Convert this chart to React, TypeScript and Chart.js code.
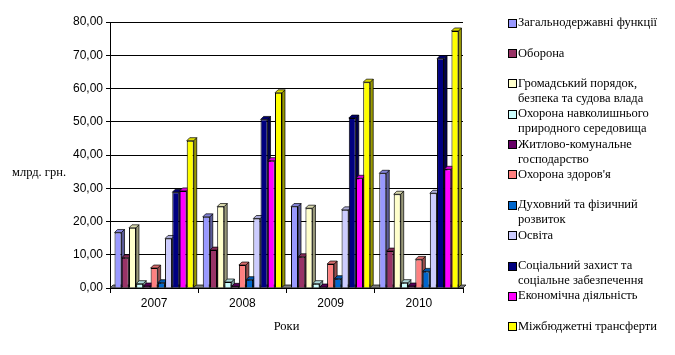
import React, { useEffect, useRef } from "react";
import { Chart, registerables } from "chart.js";
Chart.register(...registerables);

const categories = ["2007", "2008", "2009", "2010"];
const seriesNames: string[][] = [
  ["Загальнодержавні функції"],
  ["Оборона"],
  ["Громадський порядок,", "безпека та судова влада"],
  ["Охорона навколишнього", "природного середовища"],
  ["Житлово-комунальне", "господарство"],
  ["Охорона здоров'я"],
  ["Духовний та фізичний", "розвиток"],
  ["Освіта"],
  ["Соціальний захист та", "соціальне забезпечення"],
  ["Економічна діяльність"],
  ["Міжбюджетні трансферти"],
];
const zagalni = [16.7, 21.4, 24.5, 34.5];
const oborona = [9.1, 11.4, 9.4, 11.1];
const poryadok = [18.1, 24.5, 24.0, 28.2];
const dovkillia = [1.3, 1.8, 1.3, 1.6];
const zhytlo = [0.6, 0.5, 0.3, 0.6];
const zdorovia = [6.0, 6.9, 7.2, 8.6];
const dukhovnyi = [1.6, 2.5, 2.8, 5.0];
const osvita = [14.9, 20.9, 23.5, 28.5];
const sotsialnyi = [28.8, 50.7, 51.1, 69.0];
const ekonomika = [29.2, 38.3, 33.0, 35.7];
const transferty = [44.3, 58.7, 61.9, 77.3];
const seriesValues = [zagalni, oborona, poryadok, dovkillia, zhytlo, zdorovia, dukhovnyi, osvita, sotsialnyi, ekonomika, transferty];
const colors = ["#9999FF", "#993366", "#FFFFCC", "#CCFFFF", "#660066", "#FF8080", "#0066CC", "#CCCCFF", "#000080", "#FF00FF", "#FFFF00"];
const yTicks = [0, 10, 20, 30, 40, 50, 60, 70, 80];

function shade(hex: string, f: number): string {
  const n = parseInt(hex.slice(1), 16);
  let r = (n >> 16) & 255, g = (n >> 8) & 255, b = n & 255;
  if (f < 1) { r *= f; g *= f; b *= f; } else { r = r + (255 - r) * (f - 1); g = g + (255 - g) * (f - 1); b = b + (255 - b) * (f - 1); }
  return `rgb(${Math.round(r)},${Math.round(g)},${Math.round(b)})`;
}

const bar3d = {
  id: "bar3d",
  beforeDatasetsDraw(chart: any) {
    const ctx = chart.ctx;
    const d = 3;
    const a = chart.chartArea;
    ctx.save();
    ctx.lineWidth = 0.7;
    ctx.strokeStyle = "#000";
    ctx.fillStyle = "#808080";
    ctx.beginPath();
    ctx.moveTo(a.left, a.bottom); ctx.lineTo(a.left + d, a.bottom - d); ctx.lineTo(a.right + d, a.bottom - d); ctx.lineTo(a.right, a.bottom); ctx.closePath();
    ctx.fill(); ctx.stroke();
    chart.data.datasets.forEach((ds: any, i: number) => {
      const meta = chart.getDatasetMeta(i);
      meta.data.forEach((el: any) => {
        const w = el.width;
        const l = el.x - w / 2, r = el.x + w / 2, t = el.y, b = el.base;
        ctx.fillStyle = shade(colors[i], 0.6);
        ctx.beginPath();
        ctx.moveTo(r, t); ctx.lineTo(r + d, t - d); ctx.lineTo(r + d, b - d); ctx.lineTo(r, b); ctx.closePath();
        ctx.fill(); ctx.stroke();
        ctx.fillStyle = shade(colors[i], 0.85);
        ctx.beginPath();
        ctx.moveTo(l, t); ctx.lineTo(l + d, t - d); ctx.lineTo(r + d, t - d); ctx.lineTo(r, t); ctx.closePath();
        ctx.fill(); ctx.stroke();
      });
    });
    ctx.restore();
  },
};

export default function App() {
  const ref = useRef<HTMLCanvasElement>(null);
  useEffect(() => {
    document.body.style.margin = "0";
    const chart = new Chart(ref.current!, {
      type: "bar",
      data: {
        labels: categories,
        datasets: seriesValues.map((v, i) => ({
          label: seriesNames[i].join(" "),
          data: v,
          backgroundColor: colors[i],
          borderColor: "#000",
          borderWidth: 1,
          categoryPercentage: 0.9,
          barPercentage: 0.97,
        })),
      },
      options: {
        responsive: false,
        animation: false,
        plugins: { legend: { display: false }, tooltip: { enabled: false } },
        layout: { padding: { left: 0, right: 212, top: 22, bottom: 0 } },
        scales: {
          y: {
            min: 0,
            max: 80,
            afterFit: (s: any) => { s.width = 110; },
            afterBuildTicks: (s: any) => { s.ticks = yTicks.map((v) => ({ value: v })); },
            ticks: {
              callback: (v: any) => Number(v).toFixed(2).replace(".", ","),
              color: "#000",
              font: { family: "Liberation Sans", size: 12 },
              padding: 3,
            },
            grid: { color: "#000", tickLength: 4, lineWidth: 1 },
            border: { color: "#000" },
          },
          x: {
            afterFit: (s: any) => { s.height = 67; },
            grid: { drawOnChartArea: false, offset: true, tickLength: 5, color: "#000" },
            border: { color: "#000" },
            ticks: { color: "#000", font: { family: "Liberation Sans", size: 12 }, padding: 3 },
            title: {
              display: true,
              text: "Роки",
              color: "#000",
              font: { family: "Liberation Serif", size: 12.5 },
              padding: { top: 4, bottom: 21 },
            },
          },
        },
      },
      plugins: [bar3d],
    });
    return () => chart.destroy();
  }, []);

  return (
    <div style={{ position: "fixed", left: 0, top: 0, width: 675, height: 355, background: "#fff" }}>
      <canvas ref={ref} width={675} height={355} style={{ position: "absolute", left: 0, top: 0 }} />
      <div style={{ position: "absolute", left: 12, top: 165, font: "12.5px 'Liberation Serif'", color: "#000", whiteSpace: "nowrap" }}>
        млрд. грн.
      </div>
      {seriesNames.map((lines, i) => (
        <div key={i} style={{ position: "absolute", left: 507, top: 22.7 + i * 30.35 - 7.5, font: "12.5px 'Liberation Serif'", lineHeight: "15px", color: "#000", whiteSpace: "nowrap" }}>
          <span style={{ position: "absolute", left: 1, top: 3.5, width: 7, height: 7, background: colors[i], border: "1px solid #000" }} />
          {lines.map((t, j) => (
            <div key={j} style={{ marginLeft: 11 }}>{t}</div>
          ))}
        </div>
      ))}
    </div>
  );
}
